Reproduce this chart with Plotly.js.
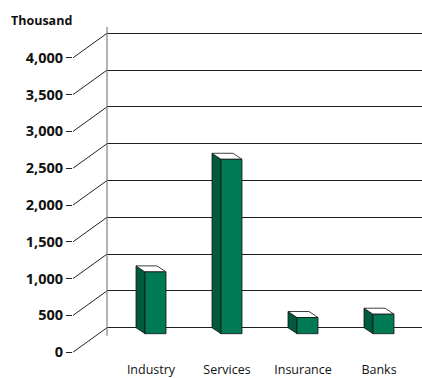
<!DOCTYPE html>
<html>
<head>
<meta charset="utf-8">
<script src="https://cdn.plot.ly/plotly-3.0.1.min.js"></script>
<style>
  html, body { margin: 0; padding: 0; background: #fff; }
  #chart { width: 422px; height: 378px; }
</style>
</head>
<body>
<div id="chart"></div>
<script>
// Employees by sector (thousand)
const categories = ['Industry', 'Services', 'Insurance', 'Banks'];
const values = [840, 2370, 220, 265];
const yTicks = [0, 500, 1000, 1500, 2000, 2500, 3000, 3500, 4000];

// Page geometry (pixels)
const W = 422, H = 378;
const plotTop = 27, plotBottom = 356;   // vertical extent of the plotting area
const leftEdge = 73;                    // where the label axis sits
const wallX = 107;                      // back wall of the pseudo-3D box
const zeroPx = 327.7;                   // floor line of the back wall
const pxPer1000 = 73.6;                 // vertical scale of the back wall
const catStartPx = 151, catStepPx = 76; // category spacing

const upp = 1000 / pxPer1000;           // y units per pixel
const yRange = [-(plotBottom - zeroPx) * upp, (zeroPx - plotTop) * upp];
const labelShift = 24.5 * upp;          // tick labels sit lower-left of the wall
const wallBottom = -8 * upp;            // wall line ends a little below the floor

const xPerPx = 1 / catStepPx;
const xRange = [-(catStartPx - wallX) * xPerPx, (W - catStartPx) * xPerPx];

// Bar box dimensions
const halfSpan = 15 * xPerPx;  // half of (side + front) width
const depthX = 9 * xPerPx;
const depthY = 6 * upp;

const front = '#007a55', side = '#005a3d', topFace = '#ffffff', edge = '#111111';

const traces = [];

// Connectors from the front tick labels back to the wall grid lines, plus the wall line
const wallFrac = (wallX - leftEdge) / (W - leftEdge);
yTicks.forEach(v => {
  traces.push({
    x: [0, wallFrac], y: [v, v + labelShift],
    xaxis: 'x2', yaxis: 'y3', mode: 'lines',
    line: { color: '#222', width: 1 }, hoverinfo: 'skip', showlegend: false
  });
});
traces.push({
  x: [wallFrac, wallFrac], y: [wallBottom + labelShift, yRange[1] + labelShift],
  xaxis: 'x2', yaxis: 'y3', mode: 'lines',
  line: { color: '#808080', width: 1.2 }, hoverinfo: 'skip', showlegend: false
});

// Pseudo-3D bars: side face, top face and front face for each category
values.forEach((v, i) => {
  const bl = i - halfSpan;          // back-left x
  const fl = bl + depthX;           // front-left x
  const fr = i + halfSpan;          // front-right x
  const br = fr - depthX;           // back-right x
  const faces = [
    { x: [bl, fl, fl, bl, bl], y: [v, v - depthY, -depthY, 0, v], c: side },
    { x: [bl, br, fr, fl, bl], y: [v, v, v - depthY, v - depthY, v], c: topFace },
    { x: [fl, fr, fr, fl, fl], y: [v - depthY, v - depthY, -depthY, -depthY, v - depthY], c: front }
  ];
  faces.forEach(f => {
    traces.push({
      x: f.x, y: f.y, xaxis: 'x', yaxis: 'y',
      mode: 'lines', fill: 'toself', fillcolor: f.c,
      line: { color: edge, width: 0.8 },
      hoverinfo: 'skip', showlegend: false
    });
  });
});

const layout = {
  width: W, height: H,
  margin: { l: leftEdge, r: 0, t: plotTop, b: H - plotBottom, pad: 0 },
  paper_bgcolor: '#ffffff', plot_bgcolor: 'rgba(0,0,0,0)',
  showlegend: false,
  font: { family: 'Open Sans, Noto Sans, sans-serif', color: '#111' },
  title: {
    text: '<b>Thousand</b>',
    xref: 'container', yref: 'container',
    x: 11 / W, xanchor: 'left',
    y: 1 - 21 / H, yanchor: 'middle',
    font: { size: 12.5, color: '#111' }
  },
  xaxis: {
    domain: [wallFrac, 1], range: xRange, anchor: 'y',
    tickvals: categories.map((_, i) => i), ticktext: categories,
    showgrid: false, zeroline: false, showline: false, ticks: '',
    ticklabelstandoff: 4,
    tickfont: { size: 12.5, color: '#111' }, fixedrange: true
  },
  yaxis: {
    range: yRange, anchor: 'x',
    tickvals: yTicks, showticklabels: false, ticks: '',
    showgrid: true, gridcolor: '#1e1e1e', gridwidth: 1,
    zeroline: false, showline: false, fixedrange: true
  },
  xaxis2: {
    domain: [0, 1], range: [0, 1], anchor: 'y3', visible: false, fixedrange: true
  },
  yaxis3: {
    range: [yRange[0] + labelShift, yRange[1] + labelShift], anchor: 'x2',
    side: 'left', tickvals: yTicks, tickformat: ',d',
    ticks: 'outside', ticklen: 6, tickcolor: '#222', tickwidth: 1,
    tickfont: { size: 14.5, color: '#111', weight: 'bold' },
    showgrid: false, zeroline: false, showline: false, fixedrange: true
  }
};

Plotly.newPlot('chart', traces, layout, { staticPlot: true, displayModeBar: false });
</script>
</body>
</html>
